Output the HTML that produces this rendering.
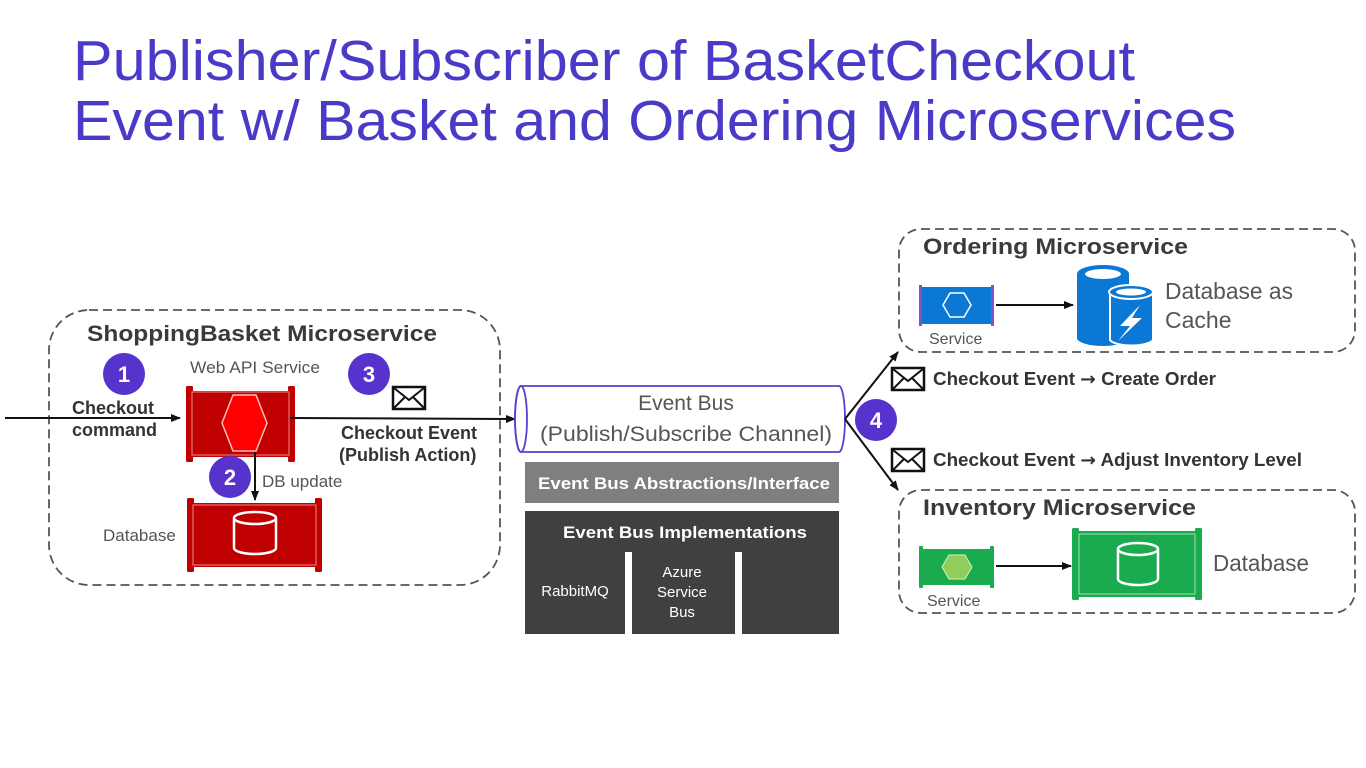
<!DOCTYPE html>
<html><head><meta charset="utf-8"><style>
html,body{margin:0;padding:0;background:#fff;width:1366px;height:768px;overflow:hidden}
svg{display:block}
text{font-family:"Liberation Sans",sans-serif}
</style></head><body>
<svg width="1366" height="768" viewBox="0 0 1366 768" xmlns="http://www.w3.org/2000/svg">
<defs>
<marker id="ar" markerWidth="10" markerHeight="10" refX="9" refY="5" orient="auto" markerUnits="userSpaceOnUse"><path d="M0,1 L10,5 L0,9 z" fill="#111"/></marker>
<g id="env"><rect x="0" y="0" width="32" height="22" fill="#fff" stroke="#111" stroke-width="2.5"/><path d="M1,1 L16,13 L31,1 M1,21 L12,10 M31,21 L20,10" fill="none" stroke="#111" stroke-width="2"/></g>
</defs>
<rect width="1366" height="768" fill="#fff"/>
<!-- Title -->
<g fill="#4a3ac8" font-size="57">
<text x="73" y="80" textLength="1062" lengthAdjust="spacingAndGlyphs">Publisher/Subscriber of BasketCheckout</text>
<text x="73" y="140" textLength="1163" lengthAdjust="spacingAndGlyphs">Event w/ Basket and Ordering Microservices</text>
</g>

<!-- Left container -->
<rect x="49" y="310" width="451" height="275" rx="40" fill="none" stroke="#555" stroke-width="1.8" stroke-dasharray="9,5"/>
<text x="87" y="341" font-size="22" font-weight="bold" fill="#3a3a3a" textLength="350" lengthAdjust="spacingAndGlyphs">ShoppingBasket Microservice</text>
<text x="190" y="373" font-size="17" fill="#555" textLength="130" lengthAdjust="spacingAndGlyphs">Web API Service</text>
<!-- Web API box -->
<rect x="190" y="391" width="101" height="66" fill="#c00000"/>
<rect x="186" y="386" width="7" height="76" rx="1.5" fill="#c00000"/><rect x="288" y="386" width="7" height="76" rx="1.5" fill="#c00000"/>
<rect x="192" y="392" width="97" height="63" fill="none" stroke="#e88" stroke-width="1"/>
<polygon points="233,395 256,395 267,423 256,451 233,451 222,423" fill="#ff0000" stroke="#ffbcbc" stroke-width="1.5"/>
<!-- DB box -->
<rect x="191" y="503" width="127" height="64" fill="#c00000"/>
<rect x="187" y="498" width="7" height="74" rx="1.5" fill="#c00000"/><rect x="315" y="498" width="7" height="74" rx="1.5" fill="#c00000"/>
<rect x="193" y="505" width="123" height="60" fill="none" stroke="#e88" stroke-width="1"/>
<g fill="none" stroke="#fff" stroke-width="2.5"><path d="M234,518 L234,548 A21,6 0 0 0 276,548 L276,518"/><ellipse cx="255" cy="518" rx="21" ry="6"/></g>
<text x="103" y="541" font-size="17" fill="#555">Database</text>
<!-- arrows -->
<line x1="5" y1="418" x2="180" y2="418" stroke="#111" stroke-width="2" marker-end="url(#ar)"/>
<line x1="290" y1="418" x2="515" y2="419" stroke="#111" stroke-width="2" marker-end="url(#ar)"/>
<line x1="255" y1="452" x2="255" y2="500" stroke="#111" stroke-width="2" marker-end="url(#ar)"/>
<g font-size="18" font-weight="bold" fill="#333">
<text x="72" y="414">Checkout</text><text x="72" y="436">command</text>
<text x="341" y="439">Checkout Event</text><text x="339" y="461">(Publish Action)</text>
</g>
<text x="262" y="487" font-size="17" fill="#555">DB update</text>
<use href="#env" x="393" y="387"/>
<!-- circles -->
<g fill="#5533cc"><circle cx="124" cy="374" r="21"/><circle cx="230" cy="477" r="21"/><circle cx="369" cy="374" r="21"/><circle cx="876" cy="420" r="21"/></g>
<g fill="#fff" font-size="22" font-weight="bold" text-anchor="middle">
<text x="124" y="382">1</text><text x="230" y="485">2</text><text x="369" y="382">3</text><text x="876" y="428">4</text></g>

<!-- Event bus -->
<path d="M521,386 L839,386 A6,33 0 0 1 839,452 L521,452 A6,33 0 0 1 521,386 Z" fill="#fff" stroke="#5a3fd0" stroke-width="1.8"/>
<ellipse cx="521" cy="419" rx="6" ry="33" fill="none" stroke="#5a3fd0" stroke-width="1.8"/>
<text x="686" y="410" font-size="21" fill="#555" text-anchor="middle">Event Bus</text>
<text x="686" y="441" font-size="21" fill="#555" text-anchor="middle" textLength="292" lengthAdjust="spacingAndGlyphs">(Publish/Subscribe Channel)</text>
<rect x="525" y="462" width="314" height="41" fill="#7f7f7f"/>
<text x="684" y="489" font-size="17" font-weight="bold" fill="#fff" text-anchor="middle" textLength="292" lengthAdjust="spacingAndGlyphs">Event Bus Abstractions/Interface</text>
<rect x="525" y="511" width="314" height="123" fill="#404040"/>
<rect x="625" y="552" width="7" height="83" fill="#fff"/><rect x="735" y="552" width="7" height="83" fill="#fff"/>
<text x="685" y="538" font-size="17" font-weight="bold" fill="#fff" text-anchor="middle" textLength="244" lengthAdjust="spacingAndGlyphs">Event Bus Implementations</text>
<g font-size="15" fill="#fff" text-anchor="middle"><text x="575" y="596">RabbitMQ</text><text x="682" y="577">Azure</text><text x="682" y="597">Service</text><text x="682" y="617">Bus</text></g>

<!-- fan arrows -->
<line x1="845" y1="419" x2="898" y2="352" stroke="#111" stroke-width="2" marker-end="url(#ar)"/>
<line x1="845" y1="419" x2="898" y2="490" stroke="#111" stroke-width="2" marker-end="url(#ar)"/>
<use href="#env" x="892" y="368"/><use href="#env" x="892" y="449"/>
<g font-size="18" font-weight="bold" fill="#333">
<text x="933" y="385" textLength="283" lengthAdjust="spacingAndGlyphs">Checkout Event <tspan font-family="DejaVu Sans">→</tspan> Create Order</text>
<text x="933" y="466" textLength="369" lengthAdjust="spacingAndGlyphs">Checkout Event <tspan font-family="DejaVu Sans">→</tspan> Adjust Inventory Level</text></g>

<!-- Ordering -->
<rect x="899" y="229" width="456" height="123" rx="22" fill="none" stroke="#555" stroke-width="1.8" stroke-dasharray="9,5"/>
<text x="923" y="254" font-size="22" font-weight="bold" fill="#3a3a3a" textLength="265" lengthAdjust="spacingAndGlyphs">Ordering Microservice</text>
<rect x="921" y="287" width="72" height="37" fill="#0a78d4"/>
<rect x="919" y="285" width="3" height="41" fill="#8a4fc8"/><rect x="991" y="285" width="3" height="41" fill="#8a4fc8"/>
<polygon points="950,293 964,293 971,305 964,317 950,317 943,305" fill="none" stroke="#fff" stroke-width="1.5"/>
<text x="929" y="344" font-size="16" fill="#555">Service</text>
<line x1="996" y1="305" x2="1073" y2="305" stroke="#111" stroke-width="2" marker-end="url(#ar)"/>
<!-- cache icon -->
<path d="M1077,274 L1077,338 A26,8 0 0 0 1129,338 L1129,274 Z" fill="#0a78d4"/>
<ellipse cx="1103" cy="274" rx="26" ry="9" fill="#0a78d4"/>
<ellipse cx="1103" cy="274" rx="18" ry="5" fill="#fff"/>
<path d="M1110,292 L1110,340 A22,7 0 0 0 1153,340 L1153,292 Z" fill="#0a78d4" stroke="#fff" stroke-width="2"/>
<ellipse cx="1131" cy="292" rx="22" ry="7" fill="#0a78d4" stroke="#fff" stroke-width="2"/>
<ellipse cx="1131" cy="292" rx="15" ry="3.5" fill="#fff"/>
<polygon points="1140,305 1120,326 1130,326 1118,341 1142,318 1132,318" fill="#fff"/>
<g font-size="23" fill="#555"><text x="1165" y="299" textLength="128" lengthAdjust="spacingAndGlyphs">Database as</text><text x="1165" y="328">Cache</text></g>

<!-- Inventory -->
<rect x="899" y="490" width="456" height="123" rx="22" fill="none" stroke="#555" stroke-width="1.8" stroke-dasharray="9,5"/>
<text x="923" y="515" font-size="22" font-weight="bold" fill="#3a3a3a" textLength="273" lengthAdjust="spacingAndGlyphs">Inventory Microservice</text>
<rect x="921" y="549" width="72" height="36" fill="#1aab4f"/>
<rect x="919" y="546" width="4" height="42" rx="1" fill="#1aab4f"/><rect x="990" y="546" width="4" height="42" rx="1" fill="#1aab4f"/>
<polygon points="949,555 965,555 972,567 965,579 949,579 942,567" fill="#8fce5a" stroke="#d8f0c0" stroke-width="1"/>
<text x="927" y="606" font-size="16" fill="#555">Service</text>
<line x1="996" y1="566" x2="1071" y2="566" stroke="#111" stroke-width="2" marker-end="url(#ar)"/>
<rect x="1076" y="531" width="122" height="66" fill="#1aab4f"/>
<rect x="1072" y="528" width="7" height="72" rx="1.5" fill="#1aab4f"/><rect x="1195" y="528" width="7" height="72" rx="1.5" fill="#1aab4f"/>
<rect x="1079" y="534" width="116" height="60" fill="none" stroke="#9ee0b5" stroke-width="1"/>
<g fill="none" stroke="#fff" stroke-width="2.5"><path d="M1118,549 L1118,579 A20,6 0 0 0 1158,579 L1158,549"/><ellipse cx="1138" cy="549" rx="20" ry="6"/></g>
<text x="1213" y="571" font-size="23" fill="#555" textLength="96" lengthAdjust="spacingAndGlyphs">Database</text>
</svg>
</body></html>
